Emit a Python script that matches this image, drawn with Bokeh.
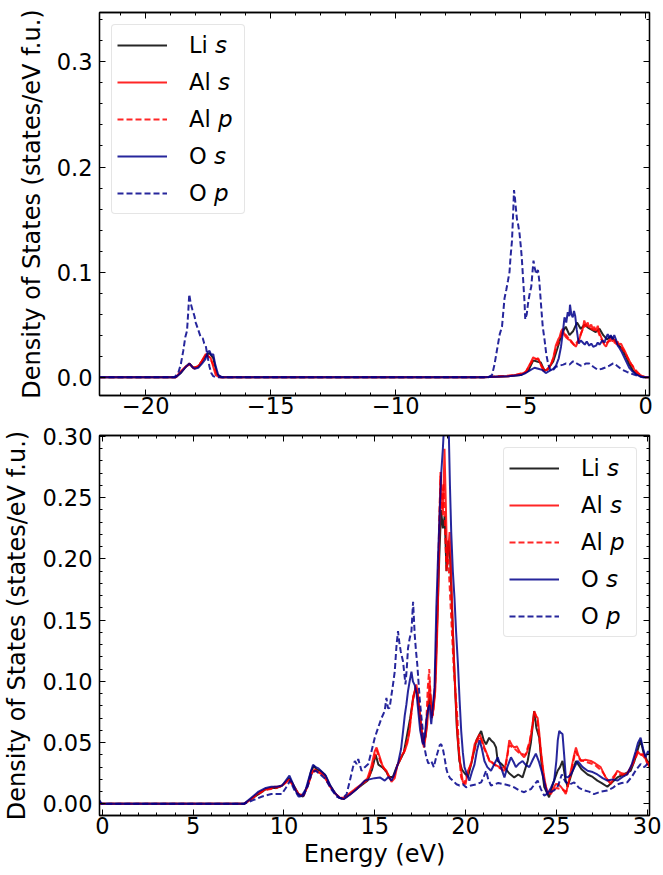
from bokeh.plotting import figure
from bokeh.layouts import column
from bokeh.models import Range1d, FixedTicker, LinearAxis, PrintfTickFormatter
from bokeh.embed import file_html
from bokeh.resources import INLINE

# ---------------- data (energy in eV, DOS in states/eV f.u.) ----------------
labels = ["Li \U0001D634", "Al \U0001D634", "Al \U0001D631", "O \U0001D634", "O \U0001D631"]
colors = ["black", "red", "red", "#00008b", "#00008b"]
dashes = ["solid", "solid", "6 3", "solid", "6 3"]

# valence band (top panel)
top_li_s = [(-21.85,0),(-18.8,0),(-18.6,0.004),(-18.4,0.010),(-18.25,0.013),(-18.1,0.009),(-17.9,0.010),(-17.75,0.015),(-17.6,0.021),(-17.45,0.023),(-17.3,0.018),(-17.15,0.003),(-17.0,0),
            (-6.5,0),(-5.5,0.001),(-5.0,0.002),(-4.7,0.006),(-4.5,0.016),(-4.35,0.015),(-4.2,0.014),(-4.05,0.006),(-3.9,0.008),(-3.7,0.015),(-3.5,0.030),(-3.35,0.042),(-3.2,0.048),(-3.05,0.040),(-2.9,0.044),(-2.75,0.052),(-2.6,0.046),(-2.45,0.050),(-2.3,0.047),(-2.15,0.045),(-2.0,0.043),(-1.85,0.046),(-1.7,0.040),(-1.55,0.036),(-1.4,0.039),(-1.25,0.035),(-1.1,0.031),(-0.95,0.027),(-0.8,0.020),(-0.65,0.012),(-0.5,0.006),(-0.35,0.003),(-0.2,0.001),(0.0,0),(0.15,0)]
top_al_s = [(-21.85,0),(-18.8,0),(-18.65,0.004),(-18.5,0.008),(-18.35,0.011),(-18.25,0.013),(-18.15,0.010),(-18.05,0.008),(-17.9,0.011),(-17.8,0.013),(-17.7,0.018),(-17.6,0.022),(-17.5,0.020),(-17.4,0.018),(-17.3,0.010),(-17.2,0.002),(-17.05,0),
            (-6.5,0),(-5.5,0.001),(-5.0,0.003),(-4.8,0.005),(-4.6,0.014),(-4.5,0.019),(-4.4,0.017),(-4.3,0.018),(-4.2,0.012),(-4.1,0.006),(-3.95,0.007),(-3.8,0.012),(-3.7,0.018),(-3.6,0.030),(-3.5,0.036),(-3.45,0.038),(-3.38,0.044),(-3.32,0.046),(-3.25,0.040),(-3.19,0.038),(-3.1,0.036),(-3.0,0.035),(-2.9,0.032),(-2.8,0.029),(-2.72,0.033),(-2.66,0.036),(-2.58,0.042),(-2.52,0.046),(-2.46,0.054),(-2.39,0.049),(-2.32,0.052),(-2.26,0.047),(-2.18,0.050),(-2.12,0.046),(-2.06,0.048),(-1.99,0.044),(-1.92,0.049),(-1.85,0.042),(-1.78,0.038),(-1.73,0.035),(-1.66,0.031),(-1.59,0.029),(-1.52,0.033),(-1.45,0.036),(-1.39,0.037),(-1.32,0.034),(-1.26,0.036),(-1.19,0.033),(-1.13,0.034),(-1.06,0.031),(-0.99,0.032),(-0.93,0.029),(-0.86,0.026),(-0.8,0.023),(-0.73,0.019),(-0.66,0.016),(-0.6,0.013),(-0.53,0.011),(-0.45,0.007),(-0.35,0.004),(-0.27,0.003),(-0.15,0.001),(0.0,0),(0.15,0)]
top_al_p = [(-21.85,0),(-18.8,0),(-18.6,0.005),(-18.4,0.010),(-18.25,0.012),(-18.1,0.009),(-17.95,0.010),(-17.8,0.014),(-17.65,0.019),(-17.55,0.021),(-17.45,0.019),(-17.3,0.012),(-17.15,0.003),(-17.0,0),
            (-6.5,0),(-5.2,0.002),(-4.8,0.005),(-4.6,0.013),(-4.45,0.018),(-4.3,0.017),(-4.15,0.010),(-4.0,0.006),(-3.8,0.011),(-3.6,0.026),(-3.45,0.036),(-3.3,0.043),(-3.15,0.039),(-3.0,0.034),(-2.85,0.030),(-2.7,0.035),(-2.55,0.044),(-2.4,0.050),(-2.25,0.047),(-2.1,0.045),(-1.95,0.046),(-1.8,0.037),(-1.65,0.031),(-1.5,0.034),(-1.35,0.035),(-1.2,0.032),(-1.05,0.030),(-0.9,0.026),(-0.75,0.020),(-0.6,0.013),(-0.45,0.008),(-0.3,0.004),(-0.15,0.001),(0.0,0),(0.15,0)]
top_o_s = [(-21.85,0),(-18.8,0),(-18.65,0.003),(-18.5,0.007),(-18.35,0.011),(-18.25,0.013),(-18.15,0.010),(-18.05,0.008),(-17.9,0.009),(-17.75,0.013),(-17.62,0.017),(-17.52,0.024),(-17.45,0.025),(-17.38,0.021),(-17.3,0.022),(-17.22,0.012),(-17.1,0.002),(-16.95,0),
           (-6.5,0),(-5.5,0.001),(-5.0,0.002),(-4.8,0.004),(-4.6,0.007),(-4.45,0.009),(-4.3,0.008),(-4.15,0.007),(-4.0,0.004),(-3.85,0.006),(-3.7,0.008),(-3.59,0.011),(-3.48,0.018),(-3.39,0.029),(-3.32,0.042),(-3.25,0.057),(-3.18,0.052),(-3.12,0.062),(-3.06,0.058),(-3.03,0.069),(-2.98,0.060),(-2.92,0.057),(-2.87,0.063),(-2.82,0.058),(-2.76,0.045),(-2.68,0.032),(-2.6,0.035),(-2.52,0.033),(-2.44,0.031),(-2.36,0.034),(-2.26,0.030),(-2.18,0.032),(-2.1,0.029),(-1.99,0.030),(-1.92,0.033),(-1.85,0.031),(-1.73,0.035),(-1.65,0.033),(-1.58,0.038),(-1.52,0.041),(-1.46,0.037),(-1.4,0.040),(-1.33,0.036),(-1.26,0.040),(-1.18,0.035),(-1.12,0.030),(-1.06,0.028),(-0.96,0.024),(-0.86,0.019),(-0.76,0.014),(-0.66,0.009),(-0.55,0.006),(-0.4,0.003),(-0.25,0.001),(-0.1,0),(0.05,0),(0.15,0)]
top_o_p = [(-21.85,0),(-18.85,0),(-18.7,0.004),(-18.6,0.012),(-18.5,0.025),(-18.42,0.038),(-18.35,0.044),(-18.3,0.062),(-18.26,0.079),(-18.2,0.070),(-18.13,0.064),(-18.05,0.058),(-18.0,0.052),(-17.9,0.045),(-17.8,0.038),(-17.72,0.037),(-17.66,0.032),(-17.6,0.030),(-17.53,0.020),(-17.45,0.010),(-17.38,0.004),(-17.3,0.001),(-17.2,0),
           (-6.3,0),(-6.15,0.002),(-6.05,0.012),(-5.95,0.026),(-5.84,0.041),(-5.75,0.048),(-5.65,0.075),(-5.58,0.083),(-5.51,0.092),(-5.45,0.100),(-5.41,0.114),(-5.35,0.130),(-5.3,0.158),(-5.27,0.178),(-5.23,0.170),(-5.2,0.162),(-5.15,0.150),(-5.11,0.146),(-5.05,0.137),(-5.0,0.125),(-4.96,0.114),(-4.91,0.095),(-4.85,0.072),(-4.82,0.055),(-4.76,0.060),(-4.71,0.070),(-4.64,0.080),(-4.58,0.086),(-4.53,0.100),(-4.49,0.111),(-4.44,0.104),(-4.38,0.098),(-4.31,0.102),(-4.26,0.092),(-4.21,0.076),(-4.16,0.060),(-4.12,0.048),(-4.05,0.036),(-3.98,0.022),(-3.9,0.012),(-3.8,0.006),(-3.7,0.007),(-3.59,0.010),(-3.45,0.011),(-3.3,0.012),(-3.19,0.013),(-3.05,0.012),(-2.92,0.015),(-2.86,0.015),(-2.75,0.013),(-2.6,0.011),(-2.52,0.011),(-2.4,0.013),(-2.26,0.013),(-2.1,0.010),(-1.92,0.007),(-1.75,0.008),(-1.59,0.0095),(-1.45,0.011),(-1.32,0.013),(-1.26,0.0133),(-1.15,0.011),(-1.05,0.009),(-0.93,0.007),(-0.75,0.005),(-0.53,0.003),(-0.3,0.001),(-0.1,0),(0.15,0)]

# conduction band (bottom panel)
bot_li_s = [(-0.16,0),(7.8,0),(8.2,0.004),(8.6,0.008),(9.0,0.012),(9.3,0.013),(9.6,0.013),(9.9,0.015),(10.1,0.018),(10.3,0.021),(10.5,0.016),(10.8,0.008),(11.05,0.006),(11.3,0.015),(11.5,0.027),(11.65,0.031),(11.8,0.028),(12.0,0.027),(12.25,0.024),(12.5,0.016),(12.8,0.009),(13.05,0.005),(13.3,0.004),(13.55,0.007),(13.9,0.011),(14.25,0.015),(14.6,0.019),(14.85,0.028),(15.05,0.040),(15.2,0.032),(15.4,0.030),(15.6,0.027),(15.8,0.022),(16.0,0.022),(16.2,0.030),(16.4,0.036),(16.6,0.042),(16.8,0.058),(16.95,0.070),(17.1,0.085),(17.25,0.095),(17.35,0.090),(17.5,0.070),(17.65,0.050),(17.8,0.055),(17.92,0.075),(18.05,0.090),(18.15,0.072),(18.3,0.090),(18.42,0.140),(18.55,0.200),(18.65,0.240),(18.75,0.225),(18.85,0.235),(18.95,0.190),(19.05,0.215),(19.15,0.200),(19.25,0.160),(19.38,0.110),(19.52,0.062),(19.66,0.035),(19.8,0.028),(19.95,0.025),(20.13,0.022),(20.35,0.035),(20.6,0.052),(20.86,0.0595),(21.0,0.052),(21.13,0.0487),(21.3,0.054),(21.4,0.052),(21.55,0.050),(21.68,0.046),(21.77,0.035),(21.95,0.033),(22.14,0.030),(22.4,0.025),(22.68,0.0216),(22.9,0.024),(23.14,0.0216),(23.42,0.035),(23.6,0.050),(23.78,0.0758),(23.9,0.062),(24.06,0.054),(24.2,0.030),(24.33,0.014),(24.6,0.0054),(24.85,0.018),(25.07,0.027),(25.2,0.030),(25.34,0.035),(25.5,0.020),(25.62,0.014),(25.85,0.025),(26.08,0.035),(26.4,0.028),(26.72,0.024),(27.0,0.022),(27.26,0.019),(27.5,0.017),(27.81,0.014),(28.1,0.018),(28.36,0.0216),(28.7,0.024),(29.09,0.027),(29.3,0.035),(29.5,0.045),(29.64,0.052),(29.8,0.042),(30.0,0.035),(30.15,0.033)]
bot_al_s = [(-0.16,0),(7.8,0),(8.2,0.004),(8.6,0.009),(9.0,0.012),(9.3,0.013),(9.5,0.014),(9.8,0.014),(10.06,0.017),(10.25,0.020),(10.5,0.015),(10.79,0.008),(11.07,0.007),(11.34,0.016),(11.55,0.026),(11.7,0.028),(11.89,0.026),(12.1,0.025),(12.26,0.022),(12.5,0.015),(12.8,0.009),(13.05,0.005),(13.3,0.005),(13.55,0.008),(13.9,0.012),(14.27,0.016),(14.6,0.021),(14.8,0.030),(15.0,0.043),(15.1,0.046),(15.28,0.038),(15.45,0.030),(15.64,0.027),(15.8,0.022),(15.92,0.018),(16.1,0.021),(16.25,0.032),(16.37,0.035),(16.5,0.040),(16.65,0.043),(16.8,0.050),(16.92,0.0595),(17.02,0.075),(17.11,0.0866),(17.2,0.092),(17.29,0.0975),(17.38,0.089),(17.45,0.078),(17.53,0.0677),(17.62,0.052),(17.71,0.046),(17.8,0.055),(17.89,0.065),(17.96,0.085),(18.02,0.100),(18.08,0.085),(18.15,0.070),(18.24,0.078),(18.33,0.092),(18.4,0.120),(18.48,0.1625),(18.55,0.220),(18.62,0.271),(18.68,0.250),(18.75,0.2356),(18.8,0.265),(18.84,0.290),(18.92,0.240),(18.99,0.195),(19.06,0.210),(19.12,0.222),(19.18,0.200),(19.25,0.168),(19.32,0.135),(19.39,0.108),(19.46,0.085),(19.54,0.0595),(19.6,0.048),(19.67,0.038),(19.76,0.027),(19.85,0.018),(20.0,0.016),(20.13,0.027),(20.3,0.032),(20.5,0.0487),(20.77,0.057),(20.9,0.052),(21.04,0.046),(21.2,0.040),(21.31,0.035),(21.45,0.034),(21.59,0.032),(21.75,0.031),(21.86,0.030),(22.0,0.028),(22.14,0.027),(22.3,0.040),(22.41,0.052),(22.55,0.048),(22.68,0.046),(22.82,0.047),(22.96,0.043),(23.1,0.040),(23.23,0.038),(23.38,0.042),(23.51,0.0487),(23.65,0.060),(23.78,0.0758),(23.88,0.072),(23.97,0.070),(24.06,0.058),(24.15,0.043),(24.3,0.025),(24.42,0.014),(24.55,0.009),(24.7,0.008),(24.85,0.013),(24.97,0.0162),(25.1,0.016),(25.25,0.014),(25.4,0.011),(25.52,0.008),(25.65,0.016),(25.8,0.027),(25.95,0.038),(26.08,0.046),(26.2,0.040),(26.35,0.035),(26.6,0.036),(26.9,0.035),(27.15,0.033),(27.44,0.030),(27.7,0.022),(27.99,0.0162),(28.2,0.022),(28.36,0.027),(28.6,0.025),(28.9,0.024),(29.2,0.033),(29.46,0.043),(29.65,0.040),(29.82,0.041),(30.0,0.033),(30.15,0.030)]
bot_al_p = [(-0.16,0),(7.8,0),(8.3,0.005),(8.8,0.010),(9.2,0.012),(9.6,0.013),(10.0,0.016),(10.3,0.020),(10.55,0.014),(10.85,0.007),(11.1,0.007),(11.35,0.017),(11.6,0.027),(11.85,0.026),(12.2,0.023),(12.5,0.015),(12.85,0.008),(13.2,0.004),(13.5,0.006),(13.9,0.011),(14.3,0.016),(14.65,0.020),(14.9,0.032),(15.1,0.044),(15.3,0.035),(15.55,0.028),(15.85,0.020),(16.05,0.022),(16.3,0.034),(16.6,0.042),(16.85,0.055),(17.0,0.072),(17.15,0.090),(17.3,0.094),(17.42,0.080),(17.55,0.062),(17.7,0.048),(17.82,0.060),(17.92,0.095),(18.0,0.110),(18.1,0.080),(18.2,0.072),(18.32,0.095),(18.45,0.160),(18.55,0.230),(18.62,0.268),(18.7,0.240),(18.78,0.262),(18.86,0.230),(18.95,0.190),(19.05,0.200),(19.15,0.170),(19.25,0.140),(19.35,0.110),(19.45,0.090),(19.55,0.070),(19.65,0.040),(19.75,0.022),(19.9,0.016),(20.1,0.024),(20.35,0.036),(20.6,0.050),(20.8,0.055),(21.0,0.046),(21.3,0.036),(21.6,0.032),(21.9,0.029),(22.2,0.030),(22.4,0.048),(22.7,0.045),(23.0,0.041),(23.3,0.040),(23.55,0.052),(23.72,0.068),(23.82,0.074),(23.95,0.068),(24.1,0.048),(24.3,0.022),(24.5,0.009),(24.75,0.010),(25.0,0.013),(25.3,0.012),(25.55,0.010),(25.8,0.025),(26.05,0.043),(26.3,0.036),(26.7,0.034),(27.1,0.032),(27.5,0.027),(27.9,0.018),(28.3,0.025),(28.8,0.023),(29.2,0.032),(29.5,0.042),(29.8,0.039),(30.15,0.031)]
bot_o_s = [(-0.16,0.002),(-0.05,0),(7.8,0),(8.2,0.005),(8.6,0.010),(9.0,0.013),(9.3,0.014),(9.6,0.014),(9.9,0.015),(10.1,0.019),(10.3,0.023),(10.45,0.018),(10.7,0.009),(10.95,0.006),(11.2,0.012),(11.45,0.025),(11.6,0.032),(11.75,0.030),(11.9,0.029),(12.1,0.026),(12.3,0.023),(12.55,0.015),(12.8,0.009),(13.05,0.005),(13.3,0.004),(13.6,0.007),(14.0,0.012),(14.45,0.019),(14.7,0.020),(14.99,0.021),(15.28,0.0216),(15.55,0.019),(15.75,0.022),(15.92,0.019),(16.1,0.025),(16.28,0.033),(16.45,0.045),(16.56,0.0595),(16.65,0.072),(16.74,0.081),(16.83,0.092),(16.92,0.100),(17.02,0.108),(17.1,0.100),(17.2,0.097),(17.3,0.090),(17.4,0.075),(17.5,0.060),(17.65,0.0487),(17.75,0.055),(17.85,0.070),(17.95,0.078),(18.02,0.081),(18.11,0.065),(18.2,0.080),(18.29,0.0947),(18.39,0.160),(18.48,0.200),(18.57,0.236),(18.66,0.270),(18.75,0.290),(18.82,0.310),(18.9,0.320),(18.98,0.305),(19.06,0.315),(19.14,0.260),(19.21,0.222),(19.3,0.190),(19.39,0.168),(19.48,0.140),(19.58,0.114),(19.67,0.085),(19.76,0.0595),(19.85,0.042),(19.94,0.030),(20.08,0.024),(20.21,0.019),(20.35,0.026),(20.49,0.032),(20.62,0.043),(20.77,0.052),(20.9,0.045),(21.04,0.035),(21.2,0.030),(21.4,0.027),(21.6,0.033),(21.77,0.038),(21.95,0.030),(22.14,0.0216),(22.3,0.030),(22.5,0.038),(22.65,0.034),(22.77,0.030),(22.95,0.033),(23.14,0.035),(23.3,0.032),(23.51,0.030),(23.7,0.036),(23.87,0.041),(24.05,0.034),(24.24,0.024),(24.4,0.014),(24.51,0.008),(24.7,0.013),(24.88,0.019),(25.0,0.035),(25.08,0.052),(25.16,0.0595),(25.25,0.058),(25.34,0.057),(25.43,0.040),(25.52,0.0216),(25.65,0.022),(25.8,0.024),(26.0,0.030),(26.17,0.035),(26.45,0.030),(26.72,0.027),(27.0,0.026),(27.26,0.024),(27.55,0.021),(27.81,0.019),(28.1,0.020),(28.36,0.019),(28.65,0.022),(28.9,0.024),(29.15,0.032),(29.37,0.043),(29.5,0.050),(29.64,0.054),(29.78,0.045),(29.91,0.038),(30.05,0.043),(30.15,0.040)]
bot_o_p = [(-0.16,0.003),(-0.05,0),(7.8,0),(8.3,0.003),(8.8,0.006),(9.3,0.008),(9.88,0.008),(10.1,0.013),(10.34,0.019),(10.55,0.012),(10.8,0.006),(11.05,0.006),(11.3,0.014),(11.55,0.026),(11.75,0.027),(12.0,0.024),(12.3,0.020),(12.6,0.012),(12.9,0.006),(13.2,0.004),(13.45,0.008),(13.63,0.019),(13.8,0.030),(13.9,0.035),(14.0,0.0325),(14.09,0.0366),(14.27,0.027),(14.45,0.030),(14.64,0.0325),(14.82,0.043),(15.0,0.054),(15.18,0.062),(15.37,0.070),(15.55,0.076),(15.64,0.0866),(15.73,0.078),(15.82,0.0785),(15.92,0.089),(16.0,0.097),(16.1,0.108),(16.2,0.130),(16.28,0.141),(16.35,0.132),(16.43,0.1245),(16.56,0.116),(16.69,0.0975),(16.76,0.110),(16.83,0.127),(16.92,0.135),(17.02,0.141),(17.11,0.165),(17.2,0.138),(17.27,0.125),(17.34,0.114),(17.47,0.0866),(17.56,0.072),(17.65,0.0595),(17.75,0.045),(17.84,0.038),(17.95,0.033),(18.11,0.035),(18.25,0.030),(18.38,0.038),(18.48,0.043),(18.58,0.048),(18.66,0.0487),(18.75,0.045),(18.84,0.038),(18.95,0.028),(19.03,0.024),(19.15,0.021),(19.3,0.019),(19.5,0.016),(19.67,0.015),(19.85,0.016),(20.03,0.0135),(20.3,0.015),(20.6,0.016),(20.86,0.0176),(21.0,0.022),(21.13,0.027),(21.25,0.020),(21.4,0.015),(21.8,0.017),(22.14,0.016),(22.4,0.015),(22.68,0.0135),(22.95,0.011),(23.23,0.0095),(23.42,0.011),(23.6,0.012),(23.8,0.016),(23.97,0.019),(24.15,0.012),(24.33,0.0067),(24.6,0.009),(24.88,0.011),(25.1,0.015),(25.3,0.024),(25.5,0.018),(25.75,0.016),(25.98,0.0176),(26.25,0.013),(26.53,0.011),(26.8,0.010),(27.07,0.008),(27.45,0.010),(27.81,0.011),(28.1,0.013),(28.36,0.016),(28.6,0.017),(28.9,0.0176),(29.15,0.022),(29.4,0.028),(29.64,0.0325),(29.85,0.030),(30.15,0.035)]

top_series = [top_li_s, top_al_s, top_al_p, top_o_s, top_o_p]
bot_series = [bot_li_s, bot_al_s, bot_al_p, bot_o_s, bot_o_p]

top_xticks = [-20, -15, -10, -5, 0]
top_yticks = [0.0, 0.1, 0.2, 0.3]
bot_xticks = [0, 5, 10, 15, 20, 25, 30]
bot_yticks = [0.00, 0.05, 0.10, 0.15, 0.20, 0.25, 0.30]

FONT = "DejaVu Sans"
YLABEL = "Density of States (states/eV f.u.)"


def style_axis(ax, major, minor, show_labels, standoff=6):
    ax.ticker = FixedTicker(ticks=major, minor_ticks=minor)
    ax.axis_line_color = "black"
    ax.axis_line_width = 1.3
    ax.major_tick_line_color = "black"
    ax.minor_tick_line_color = "black"
    ax.major_tick_in = 6
    ax.major_tick_out = 0
    ax.minor_tick_in = 3
    ax.minor_tick_out = 0
    ax.major_tick_line_width = 1
    ax.minor_tick_line_width = 1
    if show_labels:
        ax.major_label_text_font = FONT
        ax.major_label_text_font_size = "22.5px"
        ax.major_label_text_color = "black"
        ax.major_label_standoff = standoff
    else:
        ax.major_label_text_font_size = "1px"
        ax.major_label_text_color = None
        ax.major_label_standoff = 0


def panel(series, xr, yr, xt, xminor, yt, yminor, yfmt, height, btop, bbottom,
          legend_loc, xlabel=None, xoverrides=None):
    p = figure(width=663, height=height, output_backend="svg", toolbar_location=None,
               x_range=Range1d(*xr), y_range=Range1d(*yr),
               min_border_left=97, min_border_right=14,
               min_border_top=btop, min_border_bottom=bbottom)
    p.grid.visible = False
    p.outline_line_color = "black"
    p.outline_line_width = 1.3
    p.background_fill_color = "white"
    p.border_fill_color = "white"
    for pts, lab, col, dsh in zip(series, labels, colors, dashes):
        xs = [a for a, b in pts]
        ys = [b for a, b in pts]
        p.line(xs, ys, line_color=col, line_width=2, line_alpha=0.85,
               line_dash=dsh, legend_label=lab)
    style_axis(p.xaxis[0], xt, xminor, True, standoff=1)
    style_axis(p.yaxis[0], yt, yminor, True, standoff=7)
    p.yaxis[0].formatter = PrintfTickFormatter(format=yfmt)
    if xoverrides:
        p.xaxis[0].major_label_overrides = xoverrides
    p.yaxis[0].axis_label = YLABEL
    p.yaxis[0].axis_label_text_font = FONT
    p.yaxis[0].axis_label_text_font_size = "24px"
    p.yaxis[0].axis_label_text_font_style = "normal"
    p.yaxis[0].axis_label_text_color = "black"
    p.yaxis[0].axis_label_standoff = 8
    if xlabel:
        p.xaxis[0].axis_label = xlabel
        p.xaxis[0].axis_label_text_font = FONT
        p.xaxis[0].axis_label_text_font_size = "24px"
        p.xaxis[0].axis_label_text_font_style = "normal"
        p.xaxis[0].axis_label_text_color = "black"
        p.xaxis[0].axis_label_standoff = 3
    ra = LinearAxis()
    style_axis(ra, yt, yminor, False)
    p.add_layout(ra, "right")
    ta = LinearAxis()
    style_axis(ta, xt, xminor, False)
    p.add_layout(ta, "above")

    lg = p.legend[0]
    lg.location = legend_loc
    lg.margin = 12
    lg.padding = 5
    lg.spacing = 7
    lg.glyph_width = 50
    lg.glyph_height = 30
    lg.label_height = 30
    lg.label_width = 50
    lg.label_standoff = 22
    lg.label_text_font = FONT
    lg.label_text_font_size = "22.5px"
    lg.label_text_color = "black"
    lg.border_line_color = "#cccccc"
    lg.border_line_width = 1
    lg.background_fill_color = "white"
    lg.background_fill_alpha = 0.8
    if "border_radius" in lg.properties():
        lg.border_radius = 4
    return p


top = panel(top_series, (-21.85, 0.15), (-0.0174, 0.347),
            top_xticks, [v for v in range(-21, 1) if v % 5 != 0],
            top_yticks, [round(0.02 * i, 2) for i in range(0, 18) if i % 5 != 0],
            "%.1f", 423, 12, 28, "top_left",
            xoverrides={-20: "\u221220", -15: "\u221215", -10: "\u221210", -5: "\u22125", 0: "0"})

bot = panel(bot_series, (-0.16, 30.13), (-0.0095, 0.3008),
            bot_xticks, [v for v in range(0, 31) if v % 5 != 0],
            bot_yticks, [round(0.01 * i, 2) for i in range(0, 31) if i % 5 != 0],
            "%.2f", 452, 12, 60, "top_right", xlabel="Energy (eV)")

layout = column(top, bot, spacing=0)
open("out.html", "w").write(file_html(layout, INLINE))
